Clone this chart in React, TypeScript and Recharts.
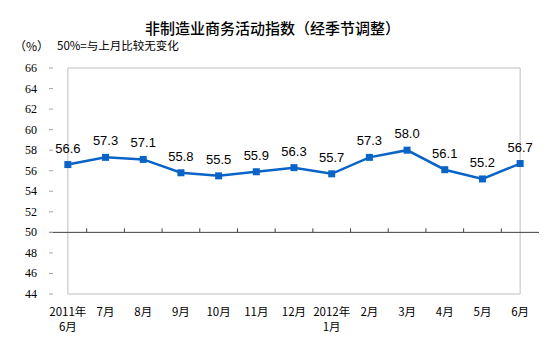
import React from 'react';
import { LineChart, Line, XAxis, YAxis, ReferenceLine, ReferenceArea, LabelList } from 'recharts';

const months = ['2011年\n6月', '7月', '8月', '9月', '10月', '11月', '12月', '2012年\n1月', '2月', '3月', '4月', '5月', '6月'];
const values = [56.6, 57.3, 57.1, 55.8, 55.5, 55.9, 56.3, 55.7, 57.3, 58.0, 56.1, 55.2, 56.7];
const yTicks = [44, 46, 48, 50, 52, 54, 56, 58, 60, 62, 64, 66];

const data = months.map((m, i) => ({ month: m, value: values[i] }));

const W = 557;
const H = 362;
const M = { top: 68, right: 18, bottom: 28, left: 9 };
const Y_AXIS_W = 40;
const X_AXIS_H = 40;
const PLOT_W = W - M.left - M.right - Y_AXIS_W;
const PLOT_H = H - M.top - M.bottom - X_AXIS_H;
const Y_MIN = 44;
const Y_MAX = 66;
const BASE = 50;
const BLUE = '#0A64C8';

const y50 = M.top + ((Y_MAX - BASE) / (Y_MAX - Y_MIN)) * PLOT_H;
const band = PLOT_W / months.length;

const YTick = (props: any) => {
  const { x, y, payload } = props;
  return (
    <g>
      <line x1={x} y1={y} x2={x + 4} y2={y} stroke="#A6A6A6" />
      <text x={x - 12} y={y + 4} textAnchor="end" fontSize={12} fontFamily="Liberation Serif" fill="#000">
        {payload.value}
      </text>
    </g>
  );
};

const XTick = (props: any) => {
  const { x, y, payload, index } = props;
  const lines = String(payload.value).split('\n');
  return (
    <g>
      {index > 0 && <line x1={x - band / 2} y1={y50} x2={x - band / 2} y2={y50 - 4} stroke="#404040" />}
      {lines.map((t, i) => (
        <text key={i} x={x} y={y + 22 + i * 15} textAnchor="middle" fontSize={11.5} fontFamily="'Noto Sans CJK SC'" fill="#000">
          {t}
        </text>
      ))}
    </g>
  );
};

const Dot = (props: any) => {
  const { cx, cy } = props;
  return <rect x={cx - 3.5} y={cy - 3.5} width={7} height={7} fill={BLUE} />;
};

export default function App() {
  return (
    <div style={{ position: 'absolute', left: 0, top: 0, width: W, height: H, background: '#fff' }}>
      <div style={{ position: 'absolute', left: 0, width: W - 12, top: 17, textAlign: 'center', fontSize: 15, fontWeight: 500, fontFamily: "'Noto Sans CJK SC'", color: '#000' }}>
        非制造业商务活动指数（经季节调整）
      </div>
      <div style={{ position: 'absolute', left: 14, top: 37, fontSize: 12, fontFamily: "'Noto Sans CJK SC'", color: '#000' }}>
        （%）
      </div>
      <div style={{ position: 'absolute', left: 57, top: 37, fontSize: 11.5, fontFamily: "'Noto Sans CJK SC'", color: '#000' }}>
        50%=与上月比较无变化
      </div>
      <div style={{ position: 'absolute', left: 0, top: 0 }}>
        <LineChart width={W} height={H} data={data} margin={M}>
          <ReferenceArea y1={Y_MIN} y2={Y_MAX} fill="none" stroke="#BFBFBF" ifOverflow="visible" />
          <ReferenceLine y={BASE} stroke="#404040" />
          <XAxis
            dataKey="month"
            height={X_AXIS_H}
            axisLine={false}
            tickLine={false}
            tickSize={0}
            tickMargin={0}
            interval={0}
            padding={{ left: band / 2, right: band / 2 }}
            tick={<XTick />}
          />
          <YAxis
            domain={[Y_MIN, Y_MAX]}
            ticks={yTicks}
            width={Y_AXIS_W}
            axisLine={false}
            tickLine={false}
            tickSize={0}
            tickMargin={0}
            interval={0}
            tick={<YTick />}
          />
          <Line
            dataKey="value"
            stroke={BLUE}
            strokeWidth={2.5}
            dot={<Dot />}
            activeDot={false}
            isAnimationActive={false}
          >
            <LabelList dataKey="value" position="top" offset={12} fontSize={13} fontFamily="Liberation Sans" fill="#000" formatter={(v: any) => Number(v).toFixed(1)} />
          </Line>
        </LineChart>
      </div>
    </div>
  );
}
